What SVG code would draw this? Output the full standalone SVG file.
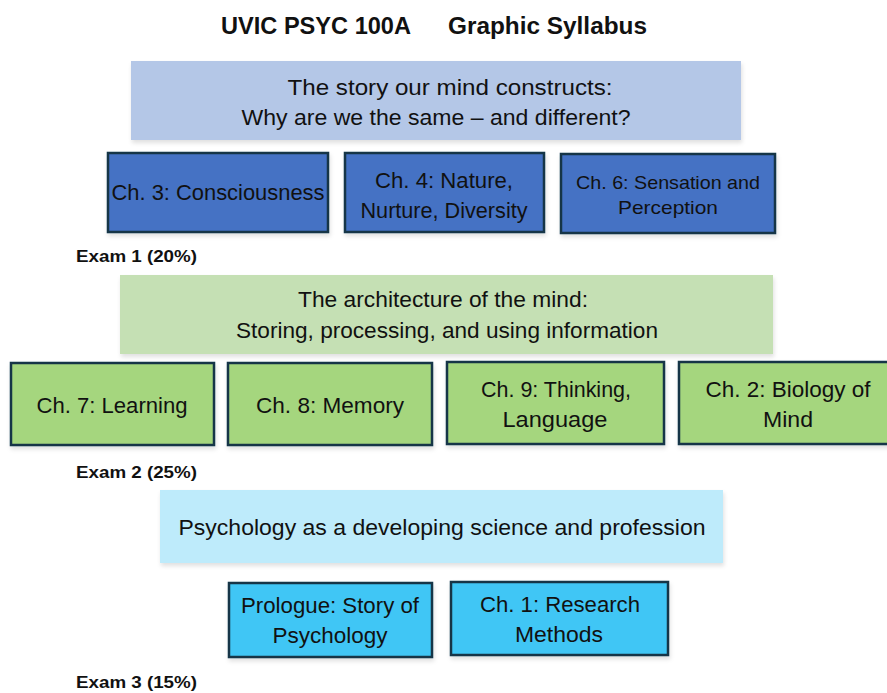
<svg xmlns="http://www.w3.org/2000/svg" width="887" height="693" viewBox="0 0 887 693">
<defs>
<filter id="sh" x="-5%" y="-5%" width="115%" height="125%">
<feDropShadow dx="1" dy="3" stdDeviation="2" flood-color="#000" flood-opacity="0.12"/>
</filter>
<style>
text{font-family:"Liberation Sans","DejaVu Sans",sans-serif;fill:#111;}
.t{font-size:22px;text-anchor:middle;}
.s{font-size:19px;text-anchor:middle;}
.ex{font-size:17px;font-weight:bold;}
.title{font-size:23px;font-weight:bold;}
.banner{filter:url(#sh);}
.box{stroke:#163546;stroke-width:2.5;filter:url(#sh);}
.b1{fill:#4472C4;}
.b2{fill:#A5D67E;}
.b3{fill:#3FC6F5;}
</style>
</defs>
<g id="title">
<text class="title" x="221" y="34" textLength="190" lengthAdjust="spacingAndGlyphs">UVIC PSYC 100A</text>
<text class="title" x="448" y="34" textLength="199" lengthAdjust="spacingAndGlyphs">Graphic Syllabus</text>
</g>
<g id="banner1">
<rect class="banner" x="131" y="61" width="610" height="79" fill="#B4C7E7"/>
<text class="t" x="450" y="95" textLength="325" lengthAdjust="spacingAndGlyphs">The story our mind constructs:</text>
<text class="t" x="436" y="125" textLength="389" lengthAdjust="spacingAndGlyphs">Why are we the same – and different?</text>
</g>
<g id="ch3">
<rect class="box b1" x="108" y="153" width="220" height="79"/>
<text class="t" x="218" y="200" textLength="213" lengthAdjust="spacingAndGlyphs">Ch. 3: Consciousness</text>
</g>
<g id="ch4">
<rect class="box b1" x="345" y="153" width="199" height="79"/>
<text class="t" x="444" y="188" textLength="138" lengthAdjust="spacingAndGlyphs">Ch. 4: Nature,</text>
<text class="t" x="444" y="218" textLength="167" lengthAdjust="spacingAndGlyphs">Nurture, Diversity</text>
</g>
<g id="ch6">
<rect class="box b1" x="561" y="154" width="214" height="79"/>
<text class="s" x="668" y="189" textLength="184" lengthAdjust="spacingAndGlyphs">Ch. 6: Sensation and</text>
<text class="s" x="668" y="214" textLength="100" lengthAdjust="spacingAndGlyphs">Perception</text>
</g>
<g id="exam1">
<text class="ex" x="76" y="262" textLength="121" lengthAdjust="spacingAndGlyphs">Exam 1 (20%)</text>
</g>
<g id="banner2">
<rect class="banner" x="120" y="275" width="653" height="79" fill="#C5E0B4"/>
<text class="t" x="443" y="307" textLength="290" lengthAdjust="spacingAndGlyphs">The architecture of the mind:</text>
<text class="t" x="447" y="338" textLength="422" lengthAdjust="spacingAndGlyphs">Storing, processing, and using information</text>
</g>
<g id="ch7">
<rect class="box b2" x="11" y="363" width="203" height="82"/>
<text class="t" x="112" y="413" textLength="151" lengthAdjust="spacingAndGlyphs">Ch. 7: Learning</text>
</g>
<g id="ch8">
<rect class="box b2" x="228" y="363" width="204" height="82"/>
<text class="t" x="330" y="413" textLength="148" lengthAdjust="spacingAndGlyphs">Ch. 8: Memory</text>
</g>
<g id="ch9">
<rect class="box b2" x="447" y="362" width="217" height="82"/>
<text class="t" x="556" y="397" textLength="150" lengthAdjust="spacingAndGlyphs">Ch. 9: Thinking,</text>
<text class="t" x="555" y="427" textLength="105" lengthAdjust="spacingAndGlyphs">Language</text>
</g>
<g id="ch2">
<rect class="box b2" x="679" y="362" width="212" height="82"/>
<text class="t" x="788" y="397" textLength="165" lengthAdjust="spacingAndGlyphs">Ch. 2: Biology of</text>
<text class="t" x="788" y="427" textLength="50" lengthAdjust="spacingAndGlyphs">Mind</text>
</g>
<g id="exam2">
<text class="ex" x="76" y="478" textLength="121" lengthAdjust="spacingAndGlyphs">Exam 2 (25%)</text>
</g>
<g id="banner3">
<rect class="banner" x="160" y="490" width="563" height="73" fill="#BEEBFB"/>
<text class="t" x="442" y="535" textLength="527" lengthAdjust="spacingAndGlyphs">Psychology as a developing science and profession</text>
</g>
<g id="prologue">
<rect class="box b3" x="229" y="583" width="203" height="74"/>
<text class="t" x="330" y="613" textLength="178" lengthAdjust="spacingAndGlyphs">Prologue: Story of</text>
<text class="t" x="330" y="643" textLength="115" lengthAdjust="spacingAndGlyphs">Psychology</text>
</g>
<g id="ch1">
<rect class="box b3" x="451" y="582" width="217" height="73"/>
<text class="t" x="560" y="612" textLength="160" lengthAdjust="spacingAndGlyphs">Ch. 1: Research</text>
<text class="t" x="559" y="642" textLength="88" lengthAdjust="spacingAndGlyphs">Methods</text>
</g>
<g id="exam3">
<text class="ex" x="76" y="688" textLength="121" lengthAdjust="spacingAndGlyphs">Exam 3 (15%)</text>
</g>
<g id="connectors"></g>
</svg>
